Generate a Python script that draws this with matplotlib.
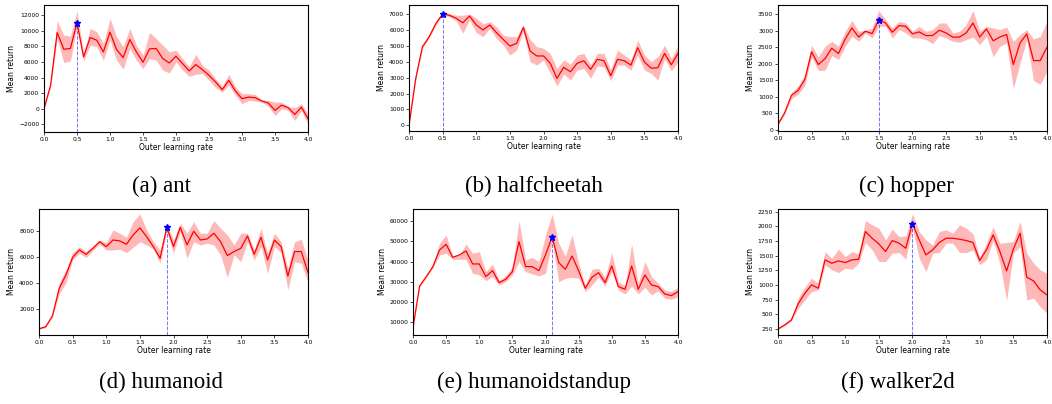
import numpy as np
import matplotlib
matplotlib.use("Agg")
import matplotlib.pyplot as plt

lr = np.round(np.arange(0, 4.01, 0.1), 1)

ant_mean = [0, 3000, 9800, 7650, 7740, 11050, 6670, 9160, 8800, 7300,
            9850, 7600, 6580, 8900, 7300, 5980, 7700, 7740, 6450, 5890,
            6750, 5800, 4860, 5680, 5030, 4300, 3440, 2450, 3660, 2280,
            1290, 1500, 1420, 990, 730, -215, 470, 130, -730, 215, -1290]
ant_hi = [100, 3200, 11300, 9460, 9330, 12600, 7100, 10320, 9890, 8390,
          11600, 9250, 7960, 10320, 8170, 6880, 9800, 9030, 8170, 7310,
          7530, 6450, 5380, 7010, 5590, 4950, 3870, 2880, 4430, 2800,
          1940, 1940, 1850, 1160, 1075, 860, 860, 300, 130, 645, -645]
ant_lo = [-100, 2800, 9030, 5940, 6150, 10540, 6150, 8170, 7960, 6240,
          8820, 6240, 5080, 7740, 6240, 5160, 6450, 6240, 4950, 4600,
          6020, 4950, 4170, 4430, 4520, 3660, 2710, 2150, 3010, 1720,
          645, 1075, 990, 860, 300, -860, 0, -215, -1500, -215, -2020]

hc_mean = [0, 2950, 4930, 5560, 6390, 6980, 6900, 6710, 6430, 6850,
           6290, 5980, 6290, 5810, 5390, 4970, 5140, 6140, 4660, 4350,
           4350, 3890, 2950, 3640, 3360, 3890, 4050, 3510, 4140, 4050,
           3110, 4140, 4050, 3780, 4870, 3970, 3590, 3610, 4510, 3800, 4510]
hc_hi = [50, 3050, 5030, 5660, 6490, 7080, 7000, 6900, 6900, 6980,
         6710, 6370, 6500, 6180, 5660, 5560, 5560, 6290, 5390, 4930,
         4830, 4510, 3570, 4100, 3840, 4410, 4510, 3780, 4510, 4510,
         3470, 4720, 4410, 4100, 5350, 4410, 3990, 4310, 5020, 4200, 5020]
hc_lo = [-50, 2850, 4830, 5460, 6290, 6880, 6800, 6560, 5770, 6600,
         5810, 5560, 6080, 5450, 5020, 4410, 4720, 5870, 3990, 3780,
         4100, 3260, 2470, 3220, 2840, 3470, 3570, 2950, 3720, 3680,
         2800, 3780, 3780, 3470, 4410, 3470, 3260, 2840, 4200, 3410, 3990]

hop_mean = [170, 520, 1046, 1200, 1530, 2365, 1980, 2160, 2475, 2315,
            2755, 3090, 2815, 2990, 2920, 3340, 3240, 2960, 3160, 3140,
            2910, 2970, 2860, 2860, 3020, 2940, 2810, 2815, 2940, 3240,
            2815, 3060, 2700, 2815, 2890, 1980, 2635, 2910, 2100, 2100, 2505]
hop_hi = [200, 560, 1130, 1330, 1680, 2565, 2215, 2535, 2685, 2535,
          2990, 3320, 2990, 3020, 3090, 3620, 3340, 3090, 3290, 3240,
          2990, 3140, 2990, 3040, 3240, 3240, 2940, 2990, 3190, 3620,
          2990, 3140, 3090, 3040, 3120, 2685, 2890, 3040, 2755, 2835, 3290]
hop_lo = [140, 480, 945, 1080, 1350, 2215, 1800, 1810, 2255, 2135,
          2535, 2835, 2685, 2940, 2785, 3140, 3140, 2785, 3040, 2940,
          2785, 2785, 2735, 2615, 2860, 2785, 2685, 2655, 2735, 2815,
          2585, 2835, 2215, 2535, 2635, 1250, 2030, 2735, 1500, 1380, 1780]

hum_mean = [510, 670, 1510, 3615, 4640, 6000, 6560, 6230, 6690, 7200,
            6820, 7330, 7260, 7000, 7720, 8260, 7590, 6820, 5920, 8300,
            6820, 8300, 6950, 8000, 7330, 7410, 7850, 7200, 6130, 6440,
            6690, 7640, 6230, 7540, 5800, 7330, 6820, 4560, 6440, 6440, 4820]
hum_hi = [560, 730, 1600, 4050, 5030, 6360, 6820, 6440, 6820, 7330,
          7130, 8100, 7850, 7540, 8740, 9330, 8100, 7200, 6560, 8490,
          7330, 8620, 7850, 8740, 7850, 7850, 8820, 8230, 7720, 6950,
          7850, 7850, 6560, 8230, 6310, 7850, 7200, 5150, 7200, 7380, 5790]
hum_lo = [460, 610, 1420, 3180, 4050, 5790, 6310, 6000, 6510, 7030,
          6560, 6560, 6620, 6360, 6770, 7200, 6950, 6640, 5540, 8030,
          6310, 7970, 5920, 7200, 6950, 7080, 6950, 6180, 4460, 6180,
          5670, 7200, 5790, 6820, 4770, 6820, 6360, 3490, 5670, 5540, 4050]

hs_mean = [7570, 27960, 32570, 37500, 45720, 48520, 42100, 43260, 45230, 38820,
           38820, 32570, 35530, 29600, 31250, 35030, 49840, 37500, 37500, 35530,
           43260, 52300, 39470, 36180, 42760, 35530, 26810, 32240, 34540, 29600,
           37830, 27630, 26320, 37830, 26320, 33390, 28450, 27630, 24010, 23190, 25160]
hs_hi = [8000, 28500, 33100, 38500, 49010, 53120, 42430, 43260, 48680, 44080,
         44900, 35030, 38820, 30920, 32890, 37500, 60200, 40790, 42100, 39970,
         53120, 63490, 49010, 42760, 53120, 39150, 28450, 36180, 36680, 32240,
         44410, 30100, 27960, 48680, 29280, 39970, 32570, 29280, 25980, 25160, 27300]
hs_lo = [7100, 27400, 32000, 36800, 43260, 44080, 41110, 41110, 41110, 34210,
         33390, 30590, 32570, 28450, 30100, 33390, 39970, 35030, 33880, 32890,
         34210, 49840, 30100, 31740, 32240, 31740, 25160, 28450, 32240, 27960,
         35030, 25980, 24010, 27960, 24010, 27300, 23520, 25650, 21870, 21380, 22700]

wk_mean = [250, 318, 403, 676, 858, 1000, 943, 1426, 1369, 1409,
           1381, 1426, 1437, 1909, 1795, 1699, 1568, 1756, 1710, 1625,
           2045, 1767, 1511, 1597, 1722, 1795, 1795, 1778, 1756, 1722,
           1415, 1597, 1852, 1568, 1239, 1608, 1881, 1131, 1068, 915, 830]
wk_hi = [265, 335, 425, 773, 960, 1114, 1028, 1568, 1455, 1608,
         1483, 1568, 1528, 2097, 2023, 1966, 1767, 1949, 1824, 1835,
         2210, 1909, 1767, 1682, 1909, 1938, 1881, 2023, 1966, 1869,
         1471, 1710, 1994, 1710, 1722, 1739, 2080, 1540, 1369, 1256, 1199]
wk_lo = [235, 300, 385, 602, 744, 886, 915, 1341, 1256, 1210,
         1284, 1267, 1369, 1722, 1597, 1398, 1398, 1540, 1551, 1437,
         1966, 1455, 1227, 1540, 1551, 1710, 1710, 1551, 1551, 1597,
         1341, 1426, 1756, 1369, 733, 1540, 1653, 744, 773, 631, 517]

captions = ["(a) ant", "(b) halfcheetah", "(c) hopper",
            "(d) humanoid", "(e) humanoidstandup", "(f) walker2d"]
means = [ant_mean, hc_mean, hop_mean, hum_mean, hs_mean, wk_mean]
highs = [ant_hi, hc_hi, hop_hi, hum_hi, hs_hi, wk_hi]
lows = [ant_lo, hc_lo, hop_lo, hum_lo, hs_lo, wk_lo]

ylims = [(-3000, 13300), (-340, 7550), (-30, 3790),
         (40, 9720), (3800, 66000), (148, 2295)]
yticks = [np.arange(-2000, 12001, 2000), np.arange(0, 7001, 1000),
          np.arange(0, 3501, 500), np.arange(2000, 8001, 2000),
          np.arange(10000, 60001, 10000), np.arange(250, 2251, 250)]

# axes boxes in figure fractions: left, bottom, width, height
boxes = [(0.0418, 0.673, 0.251, 0.314), (0.3888, 0.676, 0.2557, 0.312),
         (0.7395, 0.676, 0.2557, 0.312), (0.0371, 0.171, 0.2557, 0.312),
         (0.3926, 0.171, 0.2519, 0.312), (0.7395, 0.171, 0.2557, 0.312)]
cap_x = [161, 534, 906, 161, 534, 898]
cap_y = [186, 186, 186, 382, 382, 382]

fig = plt.figure(figsize=(10.52, 4.04), dpi=100)

for i in range(6):
    ax = fig.add_axes(boxes[i])
    m = np.array(means[i])
    ax.fill_between(lr, lows[i], highs[i], color="red", alpha=0.28, lw=0)
    ax.plot(lr, m, color="red", lw=0.9)
    best = int(np.argmax(m))
    ax.vlines(lr[best], ylims[i][0], m[best], colors="blue",
              linestyles="--", lw=0.7, alpha=0.55)
    ax.plot(lr[best], m[best], "*", color="blue", ms=5)
    ax.set_xlim(0, 4.0)
    ax.set_ylim(*ylims[i])
    ax.set_xticks(np.arange(0, 4.01, 0.5))
    ax.set_yticks(yticks[i])
    ax.tick_params(labelsize=4.3, length=2, width=0.5, pad=1.5)
    ax.set_xlabel("Outer learning rate", fontsize=5.5, labelpad=1)
    ax.set_ylabel("Mean return", fontsize=5.5, labelpad=2)
    for s in ax.spines.values():
        s.set_linewidth(0.8)
    fig.text(cap_x[i] / 1052, 1 - cap_y[i] / 404, captions[i],
             family="Liberation Serif", fontsize=16.5, ha="center", va="center")

fig.savefig("out.png", dpi=100)
